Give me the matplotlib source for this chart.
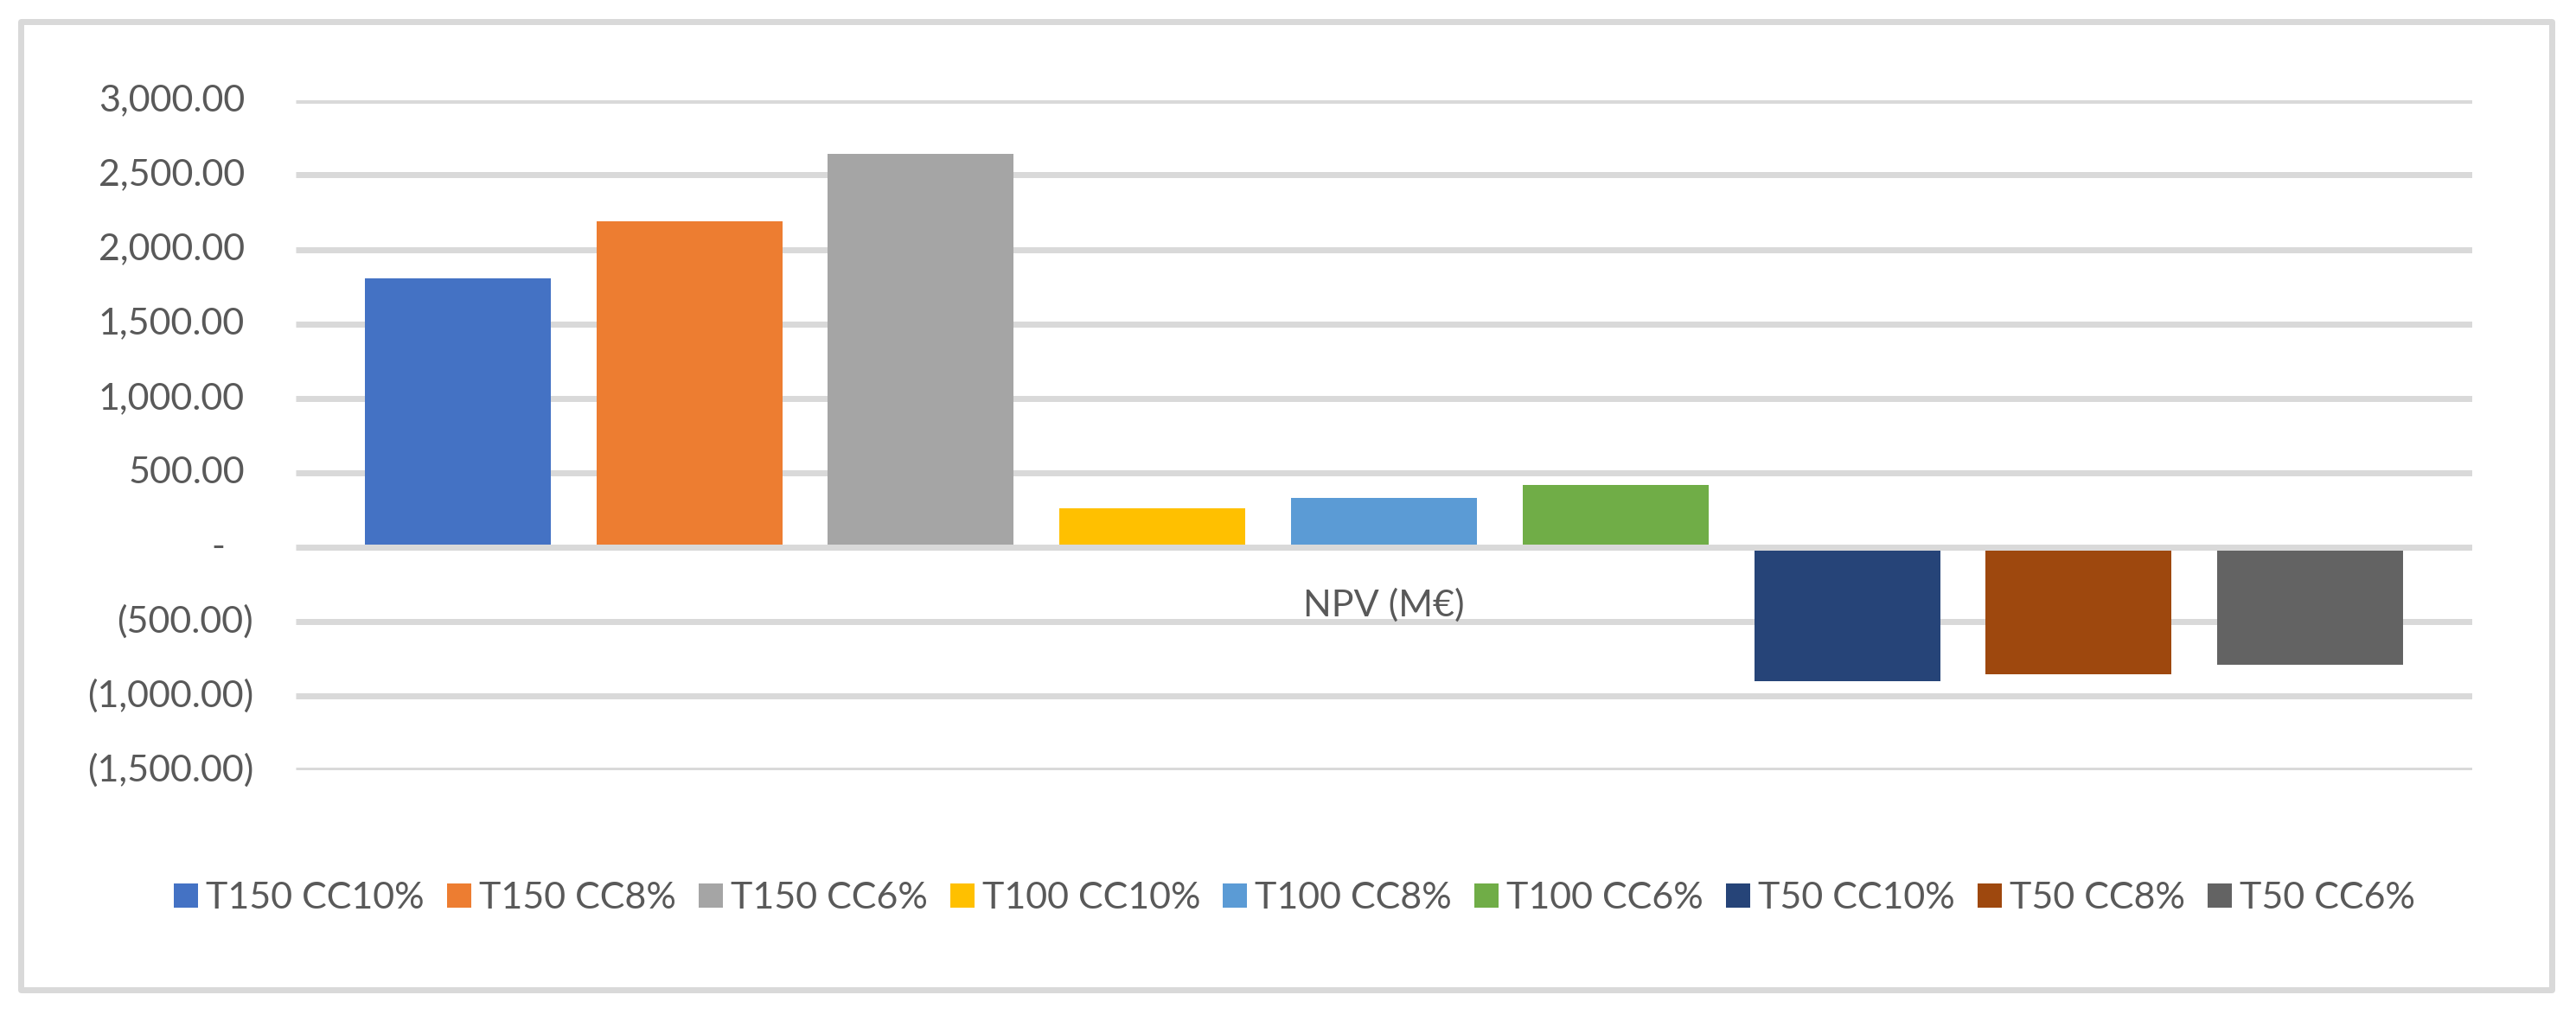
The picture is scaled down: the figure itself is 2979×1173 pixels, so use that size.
import matplotlib
matplotlib.use("Agg")
import matplotlib.pyplot as plt
from matplotlib.patches import Rectangle
import matplotlib.transforms as mtransforms

plt.rcParams['font.family'] = ['Lato', 'DejaVu Sans']

# ---- data ----
category = ["NPV (M€)"]
series = ["T150 CC10%", "T150 CC8%", "T150 CC6%",
          "T100 CC10%", "T100 CC8%", "T100 CC6%",
          "T50 CC10%", "T50 CC8%", "T50 CC6%"]
npv = [1805, 2188, 2642, 262, 332, 420, -900, -853, -789]
colors = ["#4472C4", "#ED7D31", "#A5A5A5", "#FFC000", "#5B9BD5",
          "#70AD47", "#264478", "#9E480E", "#636363"]
yticks = [-1500, -1000, -500, 0, 500, 1000, 1500, 2000, 2500, 3000]

TEXT = "#595959"
GRID = "#D9D9D9"
FS = 31

W, H, DPI = 2979, 1173, 100
fig = plt.figure(figsize=(W / DPI, H / DPI), dpi=DPI)
fig.patch.set_facecolor("white")

# chart area border
fig.patches.append(Rectangle((23.5 / W, 1 - 1144.5 / H), (2950.5 - 23.5) / W,
                             (1144.5 - 24.5) / H, transform=fig.transFigure,
                             fill=False, edgecolor=GRID, linewidth=7 * 0.72,
                             joinstyle="round"))

left, right = 342 / W, 2859 / W
top, bottom = 1 - 116.4 / H, 1 - 891.3 / H
ax = fig.add_axes([left, bottom, right - left, top - bottom])

for s in ax.spines.values():
    s.set_visible(False)

ax.set_xlim(-0.70, len(series) - 1 + 0.70)
ax.set_ylim(min(yticks), max(yticks))

# gridlines
for t in yticks:
    ln = ax.axhline(t, color=GRID, linewidth=7 * 0.72, zorder=3 if t == 0 else 1)
    ln.set_solid_capstyle("butt")

bars = []
for i, (name, v, c) in enumerate(zip(series, npv, colors)):
    b = ax.bar(i, v, width=0.803, color=c, label=name, zorder=2, linewidth=0)
    bars.append(b)

ax.set_xticks([])
ax.set_yticks([])

# y tick labels (accounting format)
blend = mtransforms.blended_transform_factory(ax.transAxes, ax.transData)
for t in yticks:
    if t > 0:
        lab, off = f"{t:,.2f}", (283 - 342) * 0.72
    elif t < 0:
        lab, off = f"({-t:,.2f})", (293 - 342) * 0.72
    else:
        lab, off = "-", (260 - 342) * 0.72
    ax.annotate(lab, xy=(0, t), xycoords=blend, xytext=(off, 0),
                textcoords="offset points", ha="right", va="center",
                fontsize=FS, color=TEXT, annotation_clip=False)

# category label below zero axis
ax.annotate(category[0], xy=((len(series) - 1) / 2, 0), xycoords="data",
            xytext=(0, -(712 - 632.2) * 0.72), textcoords="offset points",
            ha="center", va="baseline", fontsize=FS, color=TEXT)

fs_px = FS / 72 * DPI
leg = fig.legend(handles=[b for b in bars], labels=series, ncol=len(series),
                 loc="center", bbox_to_anchor=(1497 / W, 1 - 1039 / H),
                 frameon=False, fontsize=FS, labelcolor=TEXT,
                 handlelength=28 / fs_px, handleheight=28 / fs_px,
                 handletextpad=9 / fs_px, columnspacing=26 / fs_px,
                 borderpad=0, borderaxespad=0)

fig.savefig("out.png", dpi=DPI, facecolor="white")
